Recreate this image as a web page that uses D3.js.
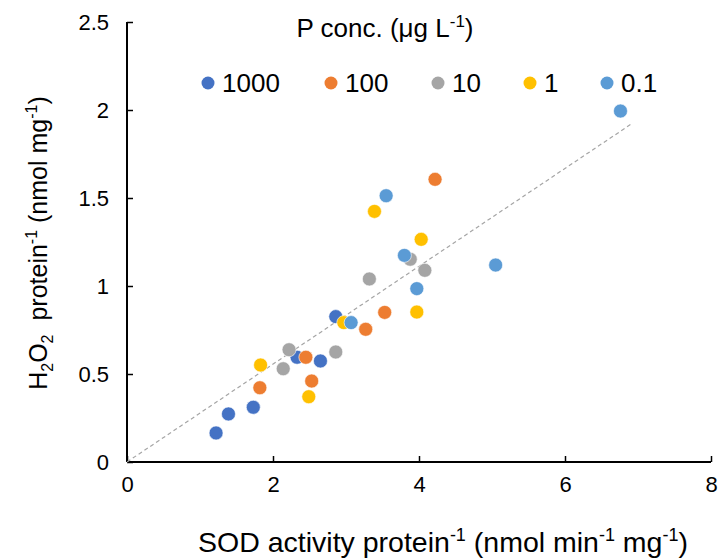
<!DOCTYPE html>
<html>
<head>
<meta charset="utf-8">
<script src="https://cdn.jsdelivr.net/npm/d3@7"></script>
<style>
  body { margin: 0; background: #fff; }
  text { font-family: "Liberation Sans", Arial, sans-serif; fill: #000; }
</style>
</head>
<body>
<div id="chart"></div>
<script>
// P concentration series (µg L-1)
const seriesNames = ["1000", "100", "10", "1", "0.1"];
const seriesColors = ["#4472C4", "#ED7D31", "#A5A5A5", "#FFC000", "#5B9BD5"];

// SOD activity protein-1 (x) and H2O2 protein-1 (y), one array per series
const sod1000 = [2.86, 2.33, 2.65, 1.73, 1.39, 1.22];
const h2o21000 = [0.826, 0.595, 0.574, 0.311, 0.273, 0.165];
const sod100 = [4.22, 3.53, 3.27, 2.45, 2.53, 1.82];
const h2o2100 = [1.606, 0.850, 0.754, 0.595, 0.460, 0.422];
const sod10 = [3.88, 4.08, 3.32, 2.22, 2.86, 2.14];
const h2o210 = [1.152, 1.089, 1.040, 0.638, 0.625, 0.530];
const sod1 = [3.39, 4.03, 3.97, 2.97, 1.83, 2.49];
const h2o21 = [1.424, 1.265, 0.852, 0.792, 0.551, 0.371];
const sod01 = [6.76, 3.55, 3.80, 3.97, 3.07, 5.05];
const h2o201 = [1.994, 1.513, 1.174, 0.985, 0.792, 1.119];

// linear trendline through the origin
const trendX = [0, 6.93];
const trendSlope = 0.278;

const xTicks = [0, 2, 4, 6, 8];
const yTicks = [0, 0.5, 1, 1.5, 2, 2.5];

const sodAll = [sod1000, sod100, sod10, sod1, sod01];
const h2o2All = [h2o21000, h2o2100, h2o210, h2o21, h2o201];

const series = seriesNames.map((name, i) => ({
    name: name,
    color: seriesColors[i],
    points: sodAll[i].map((x, j) => ({ x: x, y: h2o2All[i][j] }))
}));

const W = 718, H = 560;
const margin = { top: 22, right: 7, bottom: 98, left: 127 };
const width = W - margin.left - margin.right;
const height = H - margin.top - margin.bottom;

const svg = d3.select("#chart")
    .append("svg")
    .attr("width", W)
    .attr("height", H);

const g = svg.append("g")
    .attr("transform", `translate(${margin.left},${margin.top})`);

const xScale = d3.scaleLinear().domain([0, 8]).range([0, width]);
const yScale = d3.scaleLinear().domain([0, 2.5]).range([height, 0]);

// axes (ticks inside, like Excel)
const xAxis = g.append("g")
    .attr("transform", `translate(0,${height})`)
    .call(d3.axisBottom(xScale).tickValues(xTicks).tickSize(-6).tickPadding(14).tickFormat(d3.format("")));
xAxis.select(".domain").attr("stroke-width", 2).attr("d", `M0,0H${width}`);
xAxis.selectAll(".tick line").attr("stroke-width", 1.5);
xAxis.selectAll(".tick text").style("font-size", "22px").attr("dy", "0.71em");

const yAxis = g.append("g")
    .call(d3.axisLeft(yScale).tickValues(yTicks).tickSize(-6).tickPadding(18).tickFormat(d3.format("")));
yAxis.select(".domain").attr("stroke-width", 2).attr("d", `M0,${height}V0`);
yAxis.selectAll(".tick line").attr("stroke-width", 1.5);
yAxis.selectAll(".tick text").style("font-size", "22px");

// trendline
g.append("line")
    .attr("x1", xScale(trendX[0]))
    .attr("y1", yScale(trendX[0] * trendSlope))
    .attr("x2", xScale(trendX[1]))
    .attr("y2", yScale(trendX[1] * trendSlope))
    .attr("stroke", "#A5A5A5")
    .attr("stroke-width", 1.2)
    .attr("stroke-dasharray", "4,3");

// points
series.forEach(s => {
    g.append("g")
        .selectAll("circle")
        .data(s.points)
        .enter()
        .append("circle")
        .attr("cx", d => xScale(d.x))
        .attr("cy", d => yScale(d.y))
        .attr("r", 7)
        .attr("fill", s.color)
        .attr("stroke", "#fff")
        .attr("stroke-width", 0.6);
});

// legend
const legendTitle = svg.append("text")
    .attr("x", 385)
    .attr("y", 37)
    .attr("text-anchor", "middle")
    .style("font-size", "26px");
legendTitle.append("tspan").text("P conc. (\u03BCg L");
legendTitle.append("tspan").attr("dy", -10).style("font-size", "17px").text("-1");
legendTitle.append("tspan").attr("dy", 10).text(")");

const legendX = [208, 331, 438, 530, 607];
const legend = svg.append("g");
series.forEach((s, i) => {
    legend.append("circle")
        .attr("cx", legendX[i])
        .attr("cy", 83)
        .attr("r", 6.5)
        .attr("fill", s.color);
    legend.append("text")
        .attr("x", legendX[i] + 14)
        .attr("y", 92)
        .style("font-size", "26px")
        .text(s.name);
});

// x axis title
const xTitle = svg.append("text")
    .attr("x", 443)
    .attr("y", 552)
    .attr("text-anchor", "middle")
    .style("font-size", "28.5px");
xTitle.append("tspan").text("SOD activity protein");
xTitle.append("tspan").attr("dy", -11).style("font-size", "18px").text("-1");
xTitle.append("tspan").attr("dy", 11).text(" (nmol min");
xTitle.append("tspan").attr("dy", -11).style("font-size", "18px").text("-1");
xTitle.append("tspan").attr("dy", 11).text(" mg");
xTitle.append("tspan").attr("dy", -11).style("font-size", "18px").text("-1");
xTitle.append("tspan").attr("dy", 11).text(")");

// y axis title
const yTitle = svg.append("text")
    .attr("transform", "translate(47,243) rotate(-90)")
    .attr("text-anchor", "middle")
    .style("font-size", "25px");
yTitle.append("tspan").text("H");
yTitle.append("tspan").attr("dy", 6).style("font-size", "16px").text("2");
yTitle.append("tspan").attr("dy", -6).text("O");
yTitle.append("tspan").attr("dy", 6).style("font-size", "16px").text("2");
yTitle.append("tspan").attr("dy", -6).text("\u00A0 protein");
yTitle.append("tspan").attr("dy", -10).style("font-size", "16px").text("-1");
yTitle.append("tspan").attr("dy", 10).text(" (nmol mg");
yTitle.append("tspan").attr("dy", -10).style("font-size", "16px").text("-1");
yTitle.append("tspan").attr("dy", 10).text(")");
</script>
</body>
</html>
